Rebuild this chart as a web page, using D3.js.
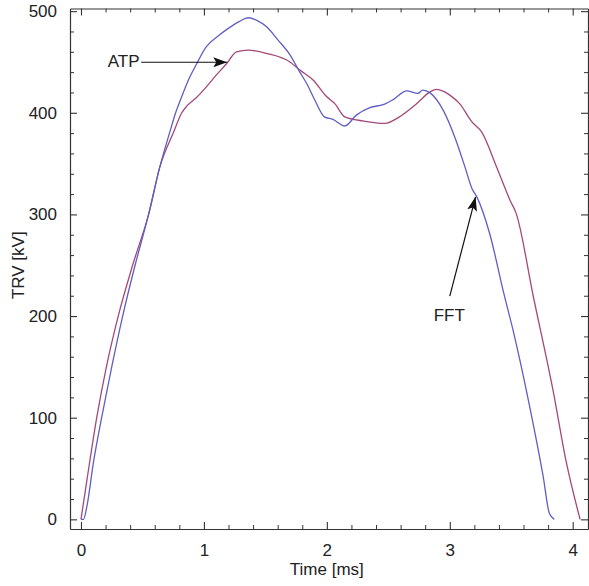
<!DOCTYPE html>
<html><head><meta charset="utf-8">
<script src="https://cdn.jsdelivr.net/npm/d3@7"></script>
<style>body{margin:0;background:#fff}svg{display:block}text{font-family:"Liberation Sans",Arial,sans-serif}</style>
</head><body><div id="chart"></div>
<script>
// FFT (blue) series
const timeFFT = [0,0.02,0.05,0.1,0.168,0.25,0.339,0.44,0.55,0.642,0.72,0.77,0.82,0.873,0.94,1.02,1.11,1.21,1.29,1.36,1.43,1.51,1.6,1.70,1.78,1.835,1.9,1.98,2.05,2.146,2.24,2.35,2.47,2.54,2.65,2.74,2.78,2.84,2.946,3.05,3.12,3.18,3.22,3.325,3.44,3.515,3.65,3.76,3.81,3.85];
const trvFFT  = [0,0,14,55,100,150,200,250,300,347,380,400,416,432,448,465,475,484,490,493.5,491,484.6,472,457,440,429,413,396,393.5,387,397.7,405,408.5,413,421.6,419,422.3,419.6,402.6,373,348,325.6,317.3,281,222,186,111,42,6,0];
// ATP (red) series
const timeATP = [0,0.05,0.128,0.21,0.303,0.42,0.55,0.642,0.75,0.82,0.86,0.94,1.02,1.1,1.185,1.265,1.36,1.51,1.70,1.78,1.89,2.0,2.065,2.146,2.295,2.47,2.59,2.73,2.84,2.89,2.95,3.0,3.08,3.18,3.26,3.38,3.49,3.54,3.68,3.84,3.95,4.06];
const trvATP  = [0,40,100,152,200,250,300,347,380,400,406.5,415,425.5,437,448.5,460,461.6,458.4,450,442,432,415.7,409,396,392,389.5,396,409,420.6,423,421,417.4,409,391,381,347,314,301,219,127,55,0];
const xTicks = [0,1,2,3,4];
const yTicks = [0,100,200,300,400,500];
const xLabel = "Time [ms]";
const yLabel = "TRV [kV]";
// annotations [label, textT, textV, tailT, tailV, tipT, tipV]
const annATP = ["ATP", 0.476, 449.7, 0.49, 449.7, 1.19, 449.7];
const annFFT = ["FFT", 2.996, 200, 3.0, 219.6, 3.21, 317.3];

const W = 589, H = 586;
const m = {left:70, top:8.5, right:1, bottom:57};
const svg = d3.select("#chart").append("svg").attr("width", W).attr("height", H);
const x = d3.scaleLinear().domain([-0.0894, 4.1244]).range([m.left, W - m.right]);
const y = d3.scaleLinear().domain([-9.5, 502.6]).range([H - m.bottom, m.top]);

const frame = "#333";
const g = svg.append("g");

const xMinor = d3.range(0, 4.01, 0.2).filter(v => Math.abs(v - Math.round(v)) > 1e-6);
const yMinor = d3.range(0, 501, 20).filter(v => v % 100 !== 0);

function axis(gen, ticks, minor, pos, labels, bottom) {
  const a = g.append("g").attr("transform", pos);
  a.call(gen.tickValues(ticks).tickSizeInner(-7).tickSizeOuter(0).tickPadding(labels ? 13 : 0).tickFormat(labels ? d3.format("d") : ""));
  a.select(".domain").attr("stroke", frame).attr("stroke-width", 1.2);
  a.selectAll(".tick line").attr("stroke", frame).attr("stroke-width", 1.1);
  a.selectAll(".tick text").attr("font-size", 17).attr("fill", "#222").attr("font-family", "Liberation Sans, Arial, sans-serif");
  if (bottom) a.selectAll(".tick text").attr("dy", "0.85em");
  const b = g.append("g").attr("transform", pos);
  b.call(gen.tickValues(minor).tickSizeInner(-4).tickSizeOuter(0).tickFormat(""));
  b.select(".domain").remove();
  b.selectAll(".tick line").attr("stroke", frame).attr("stroke-width", 1);
}
axis(d3.axisBottom(x), xTicks, xMinor, `translate(0,${H - m.bottom})`, true, true);
axis(d3.axisTop(x), xTicks, xMinor, `translate(0,${m.top})`, false, false);
axis(d3.axisLeft(y), yTicks, yMinor, `translate(${m.left},0)`, true, false);
axis(d3.axisRight(y), yTicks, yMinor, `translate(${W - m.right},0)`, false, false);

// lines
const line = d3.line().x(d => x(d[0])).y(d => y(d[1])).curve(d3.curveMonotoneX);
svg.append("path").datum(d3.zip(timeATP, trvATP)).attr("d", line)
  .attr("fill", "none").attr("stroke", "#a4487a").attr("stroke-width", 1.3).attr("stroke-linejoin", "round");
svg.append("path").datum(d3.zip(timeFFT, trvFFT)).attr("d", line)
  .attr("fill", "none").attr("stroke", "#5e5ec4").attr("stroke-width", 1.3).attr("stroke-linejoin", "round");

// arrowhead marker
svg.append("defs").append("marker").attr("id", "ah").attr("viewBox", "0 0 14 10")
  .attr("refX", 14).attr("refY", 5).attr("markerWidth", 14).attr("markerHeight", 10)
  .attr("markerUnits", "userSpaceOnUse").attr("orient", "auto")
  .append("path").attr("d", "M0,0 L14,5 L0,10 L3,5 Z").attr("fill", "#111");

function annotate(a, anchor) {
  svg.append("line").attr("x1", x(a[3])).attr("y1", y(a[4])).attr("x2", x(a[5])).attr("y2", y(a[6]))
    .attr("stroke", "#111").attr("stroke-width", 1.2).attr("marker-end", "url(#ah)");
  svg.append("text").attr("x", x(a[1])).attr("y", y(a[2])).attr("text-anchor", anchor)
    .attr("dominant-baseline", "middle").attr("font-size", 17).attr("fill", "#222").text(a[0]);
}
annotate(annATP, "end");
annotate(annFFT, "middle");

// axis labels
svg.append("text").attr("x", (x(0) + x(4)) / 2).attr("y", 575).attr("text-anchor", "middle")
  .attr("font-size", 17).attr("fill", "#222").text(xLabel);
svg.append("text").attr("transform", `translate(24,${y(250)}) rotate(-90)`).attr("text-anchor", "middle")
  .attr("font-size", 17).attr("fill", "#222").text(yLabel);
</script></body></html>
